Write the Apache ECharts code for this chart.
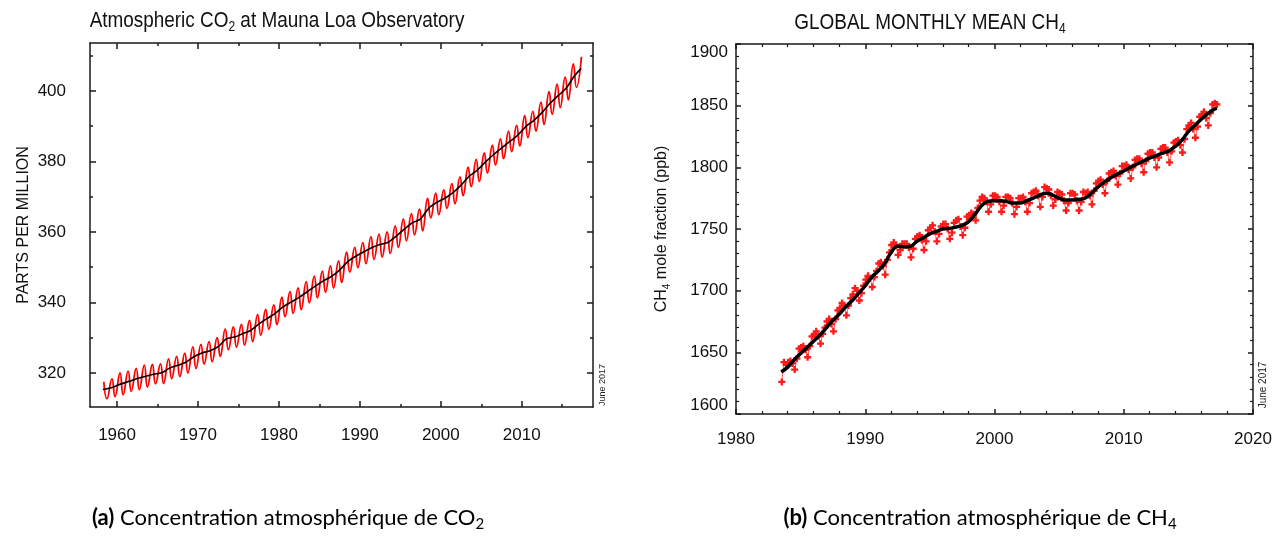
<!DOCTYPE html>
<html>
<head>
<meta charset="utf-8">
<script src="https://cdn.jsdelivr.net/npm/echarts@6/dist/echarts.min.js"></script>
<style>
html, body { margin: 0; padding: 0; background: #fff; }
#main { width: 1281px; height: 538px; }
</style>
</head>
<body>
<div id="main"></div>
<script>
// CO2 at Mauna Loa, one row per year from 1958
var co2FirstYear = 1958;
// seasonal maximum (May) per year
var co2Peak = [317.5, 318.3, 320.0, 320.5, 321.3, 322.2, 322.4, 322.6, 324.0, 324.7,
	325.6, 327.4, 328.1, 328.9, 330.0, 332.5, 333.1, 333.8, 334.9, 336.6,
	338.0, 339.3, 341.5, 343.1, 344.1, 345.9, 347.5, 348.9, 350.4, 351.8,
	354.3, 355.6, 357.0, 358.7, 359.4, 360.0, 361.7, 363.7, 365.2, 366.5,
	369.5, 371.0, 371.9, 373.7, 375.6, 378.4, 380.6, 382.4, 384.6, 386.4,
	388.6, 390.2, 393.0, 394.2, 396.8, 399.8, 401.9, 403.9, 407.7, 409.7];
// seasonal minimum (Sep/Oct) per year, 1958-2016
var co2Trough = [312.7, 313.3, 313.8, 314.8, 315.3, 316.0, 316.9, 317.0, 318.4, 319.0,
	320.0, 321.3, 322.5, 323.2, 324.7, 326.6, 327.3, 327.9, 328.9, 330.7,
	332.4, 333.7, 336.0, 336.9, 338.0, 339.9, 341.3, 342.9, 344.1, 345.7,
	348.6, 349.9, 351.0, 352.2, 352.9, 353.9, 355.6, 357.5, 359.2, 360.3,
	364.0, 364.9, 366.7, 368.0, 370.3, 372.9, 374.3, 376.7, 379.0, 380.8,
	382.8, 384.4, 386.8, 388.6, 390.5, 393.4, 395.3, 397.5, 401.0];
// de-seasonalised trend, yearly
var co2Trend = [315.3, 315.97, 316.91, 317.64, 318.45, 318.99, 319.62, 320.04, 321.38, 322.16,
	323.04, 324.62, 325.68, 326.32, 327.45, 329.68, 330.18, 331.11, 332.04, 333.83,
	335.40, 336.84, 338.75, 340.11, 341.45, 343.05, 344.65, 346.12, 347.42, 349.19,
	351.57, 353.12, 354.39, 355.61, 356.45, 357.10, 358.83, 360.82, 362.61, 363.73,
	366.70, 368.38, 369.55, 371.14, 373.28, 375.80, 377.52, 379.80, 381.90, 383.79,
	385.60, 387.43, 389.90, 391.65, 393.85, 396.52, 398.65, 400.83, 404.24, 406.4];
var co2XTicks = [1960, 1970, 1980, 1990, 2000, 2010];
var co2XMinor = [1965, 1975, 1985, 1995, 2005, 2015];
var co2YTicks = [320, 340, 360, 380, 400];
var co2YMinor = [330, 350, 370, 390, 410];

// CH4 global monthly mean, every second month from Jul 1983 (Jul, Sep, Nov, Jan, Mar, May ...)
var ch4Start = 1983 + 6.5 / 12;
var ch4Values = [
	1626, 1642, 1640,
	1642, 1643, 1641, 1636, 1645, 1653,
	1654, 1655, 1652, 1646, 1655, 1663,
	1664, 1667, 1663, 1657, 1665, 1670,
	1675, 1677, 1673, 1667, 1677, 1684,
	1686, 1690, 1688, 1680, 1688, 1694,
	1697, 1702, 1700, 1692, 1698, 1704,
	1709, 1712, 1710, 1703, 1711, 1716,
	1722, 1723, 1720, 1713, 1725, 1731,
	1737, 1739, 1737, 1729, 1733, 1738,
	1738, 1738, 1735, 1727, 1734, 1742,
	1744, 1745, 1741, 1733, 1740, 1749,
	1751, 1753, 1748, 1740, 1746, 1752,
	1754, 1754, 1750, 1742, 1747, 1755,
	1757, 1758, 1752, 1745, 1751, 1760,
	1761, 1763, 1762, 1757, 1767, 1773,
	1776, 1775, 1772, 1764, 1770, 1777,
	1777, 1776, 1772, 1764, 1769, 1776,
	1776, 1775, 1771, 1762, 1768, 1775,
	1775, 1776, 1772, 1764, 1771, 1779,
	1780, 1781, 1777, 1768, 1776, 1784,
	1783, 1782, 1777, 1769, 1774, 1780,
	1779, 1778, 1773, 1765, 1771, 1779,
	1779, 1778, 1773, 1765, 1772, 1780,
	1779, 1780, 1777, 1770, 1781, 1787,
	1789, 1790, 1786, 1779, 1789, 1795,
	1796, 1797, 1793, 1786, 1795, 1801,
	1801, 1802, 1798, 1791, 1800, 1806,
	1807, 1807, 1803, 1796, 1805, 1811,
	1812, 1812, 1808, 1800, 1808, 1815,
	1816, 1816, 1812, 1804, 1813, 1820,
	1821, 1822, 1818, 1812, 1823, 1831,
	1834, 1836, 1831, 1824, 1833, 1841,
	1843, 1845, 1840, 1834, 1844, 1851,
	1852, 1851
];
// smoothed trend, every half year from 1983.5, last point at 2017.2
var ch4TrendStart = 1983.5;
var ch4Trend = [1634, 1638, 1644, 1649, 1654, 1659, 1664, 1670, 1676, 1681,
	1687, 1692, 1698, 1704, 1711, 1716, 1722, 1731, 1736, 1735.5,
	1736, 1740, 1743, 1746, 1748, 1750, 1750.5, 1751.5, 1753, 1756,
	1762, 1769, 1772.5, 1773, 1773, 1772, 1771, 1771, 1773, 1775,
	1777.5, 1779, 1777.5, 1775, 1773.5, 1773.5, 1774, 1775, 1779, 1784,
	1788, 1791.5, 1794.5, 1797, 1800, 1802.5, 1805, 1807.5, 1809.5, 1811.5,
	1813.5, 1817, 1822, 1829, 1834, 1839, 1843.5, 1847, 1848];
var ch4TrendEnd = 2017.2;

var co2Red = [];
for (var i = 0; i < co2Peak.length; i++) {
	co2Red.push([co2FirstYear + i + 0.37, co2Peak[i]]);
	if (i < co2Trough.length) co2Red.push([co2FirstYear + i + 0.75, co2Trough[i]]);
}
var co2Black = [];
for (var i = 0; i < co2Trend.length; i++) {
	var x = co2FirstYear + i + 0.5;
	if (i == 0) x = co2FirstYear + 0.25;
	if (i == co2Trend.length - 1) x = co2FirstYear + i + 0.35;
	co2Black.push([x, co2Trend[i]]);
}
var ch4Red = [];
for (var i = 0; i < ch4Values.length; i++) {
	ch4Red.push([ch4Start + i / 6, ch4Values[i]]);
}
var ch4Black = [];
for (var i = 0; i < ch4Trend.length; i++) {
	var x = i == ch4Trend.length - 1 ? ch4TrendEnd : ch4TrendStart + i * 0.5;
	ch4Black.push([x, ch4Trend[i]]);
}

var FONT = '"Liberation Sans", Arial, sans-serif';
var CAP = 'Lato, "Open Sans", sans-serif';
var lineStyle = { color: '#1a1a1a', width: 1.5 };
function plain(v) { return String(v); }

// one side of the plot box: ticks given as explicit values
function sideAxis(grid, pos, min, max, ticks, len, line, labels, extra) {
	var a = {
		type: 'value', gridIndex: grid, position: pos, min: min, max: max,
		axisLine: { show: line, onZero: false, lineStyle: lineStyle },
		axisTick: { show: true, inside: true, length: len, customValues: ticks, lineStyle: lineStyle },
		axisLabel: { show: labels, customValues: ticks, formatter: plain, color: '#111', fontFamily: FONT, fontSize: 17 },
		splitLine: { show: false }
	};
	for (var k in extra) a[k] = extra[k];
	return a;
}

// regular axis with minor ticks
function gridAxis(grid, pos, min, max, interval, labels, extra) {
	var a = {
		type: 'value', gridIndex: grid, position: pos, min: min, max: max, interval: interval,
		axisLine: { show: true, onZero: false, lineStyle: lineStyle },
		axisTick: { show: true, inside: true, length: 5, lineStyle: lineStyle },
		minorTick: { show: true, splitNumber: 5, length: 3, lineStyle: { color: '#1a1a1a', width: 1.2 } },
		axisLabel: { show: labels, formatter: plain, color: '#111', fontFamily: FONT, fontSize: 17 },
		splitLine: { show: false }
	};
	for (var k in extra) a[k] = extra[k];
	return a;
}

var myChart = echarts.init(document.getElementById('main'));
var option = {
	animation: false,
	backgroundColor: '#fff',
	grid: [
		{ left: 90, top: 43, width: 503, height: 364 },
		{ left: 736, top: 44, width: 517, height: 370 }
	],
	xAxis: [
		sideAxis(0, 'bottom', 1956.66, 2018.8, co2XTicks, 6, true, true, { axisLabel: { customValues: co2XTicks, formatter: plain, color: '#111', fontFamily: FONT, fontSize: 17, margin: 20 } }),
		sideAxis(0, 'bottom', 1956.66, 2018.8, co2XMinor, 3, false, false),
		sideAxis(0, 'top', 1956.66, 2018.8, co2XTicks, 6, true, false),
		sideAxis(0, 'top', 1956.66, 2018.8, co2XMinor, 3, false, false),
		gridAxis(1, 'bottom', 1980, 2020, 10, true, { axisLabel: { formatter: plain, color: '#111', fontFamily: FONT, fontSize: 17, margin: 17 } }),
		gridAxis(1, 'top', 1980, 2020, 10, false)
	],
	yAxis: [
		sideAxis(0, 'left', 310.35, 413.6, co2YTicks, 6, true, true, {
			axisLabel: { customValues: co2YTicks, formatter: plain, color: '#111', fontFamily: FONT, fontSize: 17, margin: 24 },
			name: 'PARTS PER MILLION', nameLocation: 'middle', nameGap: 58, nameRotate: 90,
			nameTextStyle: { color: '#111', fontFamily: FONT, fontSize: 16 }
		}),
		sideAxis(0, 'left', 310.35, 413.6, co2YMinor, 3, false, false),
		sideAxis(0, 'right', 310.35, 413.6, co2YTicks, 6, true, false),
		sideAxis(0, 'right', 310.35, 413.6, co2YMinor, 3, false, false),
		gridAxis(1, 'left', 1600, 1900, 50, true, {
			axisLabel: { formatter: plain, color: '#111', fontFamily: FONT, fontSize: 17, margin: 8, verticalAlignMinLabel: 'bottom', verticalAlignMaxLabel: 'top' },
			name: '{a|CH}{s|4}{a| mole fraction (ppb)}', nameLocation: 'middle', nameGap: 64, nameRotate: 90,
			nameTextStyle: {
				color: '#111', fontFamily: FONT, fontSize: 16,
				rich: {
					a: { fontFamily: FONT, fontSize: 16, lineHeight: 20, color: '#111' },
					s: { fontFamily: FONT, fontSize: 10, lineHeight: 20, verticalAlign: 'bottom', color: '#111' }
				}
			}
		}),
		gridAxis(1, 'right', 1600, 1900, 50, false)
	],
	series: [
		{
			type: 'line', xAxisIndex: 0, yAxisIndex: 0, data: co2Red, smooth: 0.5,
			showSymbol: false, lineStyle: { color: '#ff0000', width: 1.8 }, z: 2
		},
		{
			type: 'line', xAxisIndex: 0, yAxisIndex: 0, data: co2Black, smooth: 0.3,
			showSymbol: false, lineStyle: { color: '#000', width: 1.6 }, z: 3
		},
		{
			type: 'line', xAxisIndex: 4, yAxisIndex: 4, data: ch4Red,
			symbol: 'path://M2,0H4V2H6V4H4V6H2V4H0V2H2Z', symbolSize: 7,
			itemStyle: { color: '#ff1a1a' }, lineStyle: { color: '#ff3030', width: 0.8 }, z: 2
		},
		{
			type: 'line', xAxisIndex: 4, yAxisIndex: 4, data: ch4Black, smooth: 0.4,
			showSymbol: false, lineStyle: { color: '#000', width: 3.5 }, z: 3
		}
	],
	graphic: [
		{
			type: 'text', x: 277, y: 21, scaleX: 0.86,
			style: {
				text: '{a|Atmospheric CO}{s|2}{a| at Mauna Loa Observatory}',
				align: 'center', verticalAlign: 'middle', fill: '#111',
				rich: {
					a: { fontFamily: FONT, fontSize: 22, lineHeight: 26, fill: '#111' },
					s: { fontFamily: FONT, fontSize: 14, lineHeight: 26, verticalAlign: 'bottom', fill: '#111' }
				}
			}
		},
		{
			type: 'text', x: 930, y: 23, scaleX: 0.86,
			style: {
				text: '{a|GLOBAL MONTHLY MEAN CH}{s|4}',
				align: 'center', verticalAlign: 'middle', fill: '#111',
				rich: {
					a: { fontFamily: FONT, fontSize: 22, lineHeight: 26, fill: '#111' },
					s: { fontFamily: FONT, fontSize: 14, lineHeight: 26, verticalAlign: 'bottom', fill: '#111' }
				}
			}
		},
		{
			type: 'text', x: 603, y: 385, rotation: Math.PI / 2,
			style: { text: 'June 2017', fontFamily: FONT, fontSize: 9, fill: '#222', align: 'center', verticalAlign: 'middle' }
		},
		{
			type: 'text', x: 1263, y: 385, rotation: Math.PI / 2,
			style: { text: 'June 2017', fontFamily: FONT, fontSize: 10, fill: '#222', align: 'center', verticalAlign: 'middle' }
		},
		{
			type: 'text', x: 288, y: 518,
			style: {
				text: '{b|(a)}{c| Concentration atmosphérique de CO}{s|2}',
				align: 'center', verticalAlign: 'middle', fill: '#000',
				rich: {
					b: { fontFamily: CAP, fontWeight: 'bold', fontSize: 22, lineHeight: 28, fill: '#000' },
					c: { fontFamily: CAP, fontSize: 22, lineHeight: 28, fill: '#000' },
					s: { fontFamily: CAP, fontSize: 15, lineHeight: 28, verticalAlign: 'bottom', fill: '#000' }
				}
			}
		},
		{
			type: 'text', x: 980, y: 518,
			style: {
				text: '{b|(b)}{c| Concentration atmosphérique de CH}{s|4}',
				align: 'center', verticalAlign: 'middle', fill: '#000',
				rich: {
					b: { fontFamily: CAP, fontWeight: 'bold', fontSize: 22, lineHeight: 28, fill: '#000' },
					c: { fontFamily: CAP, fontSize: 22, lineHeight: 28, fill: '#000' },
					s: { fontFamily: CAP, fontSize: 15, lineHeight: 28, verticalAlign: 'bottom', fill: '#000' }
				}
			}
		}
	]
};
myChart.setOption(option);
window.onresize = function() {
	myChart.resize();
};
</script>
</body>
</html>
